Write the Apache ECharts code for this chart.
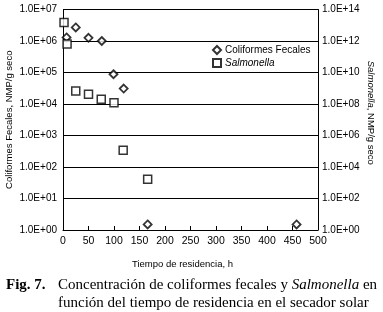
<!DOCTYPE html>
<html>
<head>
<meta charset="utf-8">
<script src="https://cdn.jsdelivr.net/npm/echarts@6/dist/echarts.min.js"></script>
<style>
  html, body { margin: 0; padding: 0; background: #fff; }
  #chart { width: 383px; height: 312px; }
</style>
</head>
<body>
<div id="chart"></div>
<script>
// values
const coliformesX = [7, 25, 50, 76, 99, 119, 166, 458];
const coliformesY = [1.3e6, 2.7e6, 1.26e6, 1.0e6, 8.8e4, 3.1e4, 1.5, 1.5];
const salmonellaX = [2, 8, 25, 50, 75, 100, 118, 166];
const salmonellaY = [1.5e13, 6.5e11, 6.7e8, 4.1e8, 2.0e8, 1.2e8, 1.15e5, 1.65e3];
const xTicks = [0, 50, 100, 150, 200, 250, 300, 350, 400, 450, 500];

const sans = "Liberation Sans, Arial, sans-serif";
const serif = "Liberation Serif, Times New Roman, serif";

function sci(v) {
  const exp = Math.round(Math.log10(v));
  return "1.0E" + (exp < 0 ? "-" : "+") + String(Math.abs(exp)).padStart(2, "0");
}

const chart = echarts.init(document.getElementById("chart"), null, { renderer: "canvas" });

chart.setOption({
  animation: false,
  textStyle: { fontFamily: sans },
  title: [
    {
      text: "Fig. 7.", left: 6, top: 278, padding: 0,
      textStyle: { fontFamily: serif, fontSize: 15, fontWeight: "bold", color: "#000" },
    },
    {
      text: "Concentración de coliformes fecales y {i|Salmonella} en", left: 58, top: 278, padding: 0,
      textStyle: {
        fontFamily: serif, fontSize: 15, fontWeight: "normal", color: "#000",
        rich: { i: { fontFamily: serif, fontSize: 15, fontStyle: "italic", color: "#000" } },
      },
    },
    {
      text: "función del tiempo de residencia en el secador solar", left: 58, top: 295.5, padding: 0,
      textStyle: { fontFamily: serif, fontSize: 15, fontWeight: "normal", color: "#000" },
    },
  ],
  legend: {
    orient: "vertical", left: 212, top: 45, padding: 0, itemGap: 3, itemWidth: 8, itemHeight: 8,
    data: ["Coliformes Fecales", "Salmonella"],
    formatter: (n) => (n === "Salmonella" ? "{i|Salmonella}" : n),
    textStyle: {
      fontFamily: sans, fontSize: 10, color: "#000", padding: [0, 0, 0, -1],
      rich: { i: { fontFamily: sans, fontSize: 10, fontStyle: "italic", color: "#000" } },
    },
  },
  grid: { left: 63, right: 65, top: 9.5, bottom: 82, outerBoundsMode: "none" },
  xAxis: {
    type: "value", min: 0, max: 500, interval: 50,
    name: "Tiempo de residencia, h", nameLocation: "middle", nameGap: 29, nameMoveOverlap: false,
    nameTextStyle: { fontFamily: sans, fontSize: 9.5, color: "#000", padding: [0, 16, 0, 0] },
    axisLine: { show: true, lineStyle: { color: "#000", width: 1 } },
    axisTick: { show: true, inside: true, length: 4, lineStyle: { color: "#000" } },
    axisLabel: { color: "#000", fontSize: 10.5, margin: 6, formatter: (v) => (xTicks.includes(v) ? String(v) : "") },
    splitLine: { show: false },
  },
  yAxis: [
    {
      type: "log", logBase: 10, min: 1, max: 1e7, interval: 1,
      name: "Coliformes Fecales, NMP/g seco", nameLocation: "middle", nameGap: 49, nameRotate: 90,
      nameMoveOverlap: false,
      nameTextStyle: { fontFamily: sans, fontSize: 9.5, color: "#000" },
      axisLine: { show: true, lineStyle: { color: "#000", width: 1 } },
      axisTick: { show: false },
      axisLabel: { color: "#000", fontSize: 10, margin: 6, formatter: sci },
      splitLine: { show: true, lineStyle: { color: "#000", width: 1 } },
    },
    {
      type: "log", logBase: 10, min: 1, max: 1e14, interval: 2,
      name: "{i|Salmonella}, NMP/g seco", nameLocation: "middle", nameGap: 48, nameRotate: -90,
      nameMoveOverlap: false,
      nameTextStyle: {
        fontFamily: sans, fontSize: 9.5, color: "#000", padding: [0, 14, 0, 0],
        rich: { i: { fontFamily: sans, fontSize: 9.5, fontStyle: "italic", color: "#000" } },
      },
      axisLine: { show: true, lineStyle: { color: "#000", width: 1 } },
      axisTick: { show: false },
      axisLabel: { color: "#000", fontSize: 10, margin: 4, formatter: sci },
      splitLine: { show: false },
    },
  ],
  series: [
    {
      name: "Coliformes Fecales", type: "scatter", yAxisIndex: 0,
      symbol: "diamond", symbolSize: 8,
      itemStyle: { color: "#fff", borderColor: "#000", borderWidth: 1.8 },
      data: coliformesX.map((x, i) => [x, coliformesY[i]]),
    },
    {
      name: "Salmonella", type: "scatter", yAxisIndex: 1,
      symbol: "rect", symbolSize: 8,
      itemStyle: { color: "#fff", borderColor: "#000", borderWidth: 1.5 },
      data: salmonellaX.map((x, i) => [x, salmonellaY[i]]),
    },
  ],
});
</script>
</body>
</html>
